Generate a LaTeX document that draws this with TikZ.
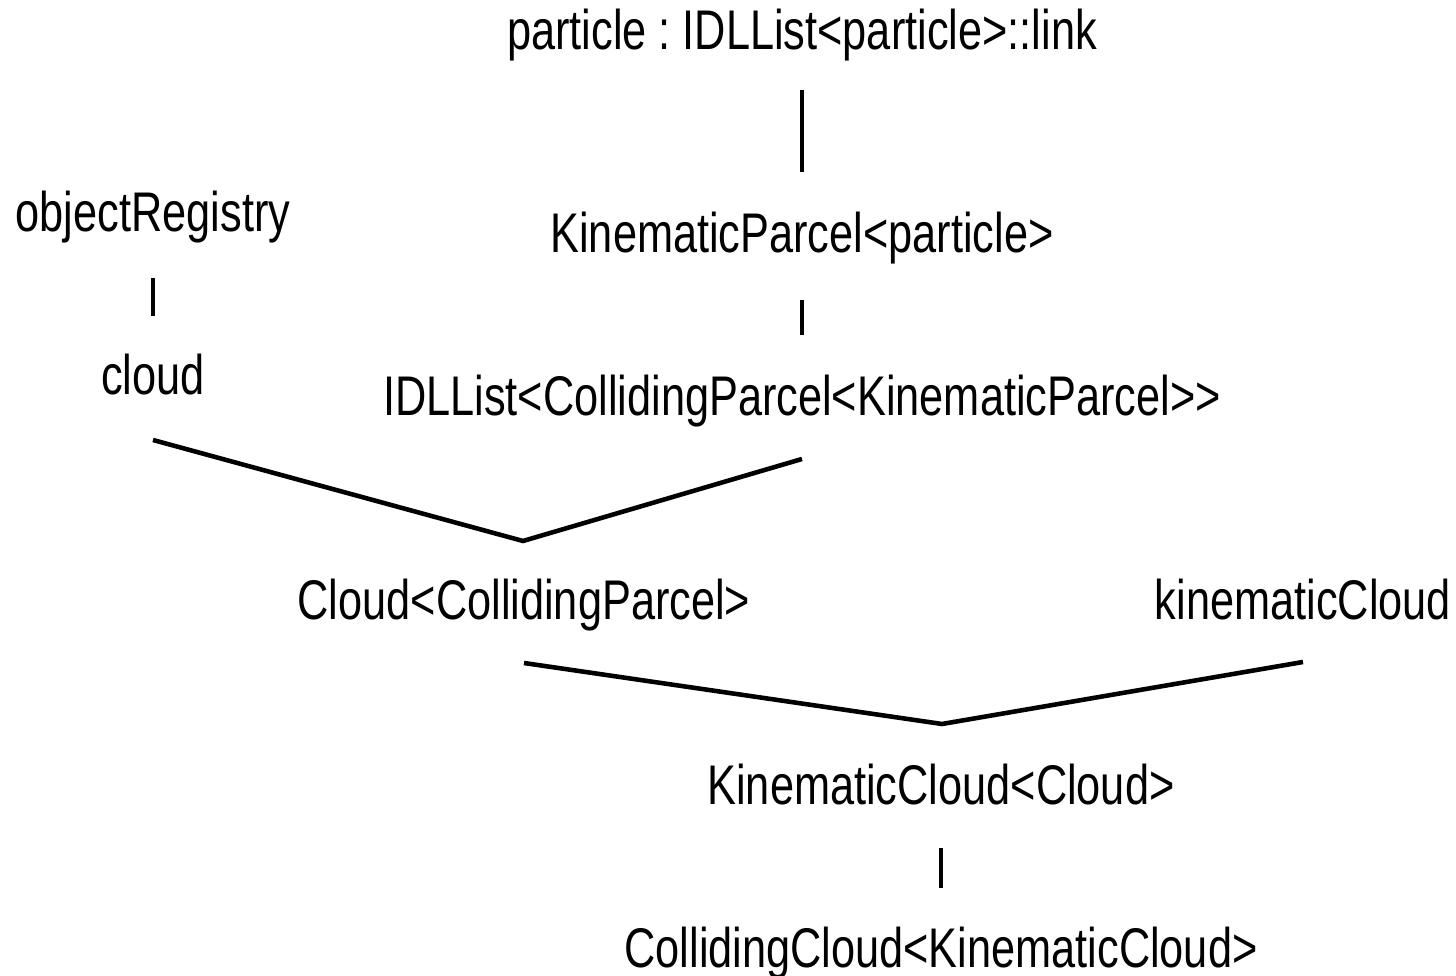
\documentclass[tikz,border=0pt]{standalone}
\usepackage{fontspec}
\setmainfont[FakeStretch=0.775]{Liberation Sans}
\usepackage{tikz}
\usetikzlibrary{calc}
\frenchspacing

\begin{document}
\begin{tikzpicture}[x=0.1mm, y=-0.1mm,
    cname/.style={inner sep=0pt, anchor=base, font=\fontsize{15.9pt}{18pt}\selectfont},
    link/.style={line width=1.3pt, line cap=butt}]
        \useasboundingbox (0,0) rectangle (1456,976);
        % class names
        \node[cname] (link) at (802,50) {particle : IDLList<particle>::link};
        \node[cname] (objreg) at (153,232) {objectRegistry};
        \node[cname] (kparcel) at (802,253) {KinematicParcel<particle>};
        \node[cname] (cloud) at (153,395) {cloud};
        \node[cname] (idl) at (802,416) {IDLList<CollidingParcel<KinematicParcel>{}>};
        \node[cname] (cparcel) at (524,620) {Cloud<CollidingParcel>};
        \node[cname] (kcloudobj) at (1303,620) {kinematicCloud};
        \node[cname] (kcloud) at (941,805) {KinematicCloud<Cloud>};
        \node[cname] (ccloud) at (941,968) {CollidingCloud<KinematicCloud>};
        % joins
        \coordinate (joinA) at (523,541);
        \coordinate (joinB) at (942,724);
        % single links
        \draw[link] ($(link.base)+(0,40)$) -- ($(kparcel.base)+(0,-81)$);
        \draw[link] ($(objreg.base)+(0,46)$) -- ($(cloud.base)+(0,-79)$);
        \draw[link] ($(kparcel.base)+(0,47)$) -- ($(idl.base)+(0,-81)$);
        \draw[link] ($(kcloud.base)+(0,43)$) -- ($(ccloud.base)+(0,-80)$);
        % merging links
        \draw[link] ($(cloud.base)+(0,45)$) -- (joinA) -- ($(idl.base)+(0,43)$);
        \draw[link] ($(cparcel.base)+(0,43)$) -- (joinB) -- ($(kcloudobj.base)+(0,42)$);
      \end{tikzpicture}
\end{document}
